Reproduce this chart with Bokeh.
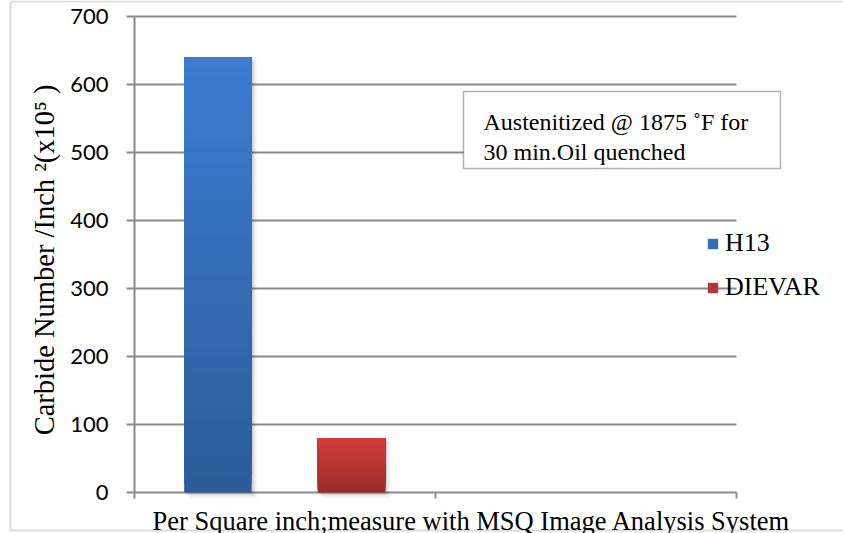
from bokeh.plotting import figure
from bokeh.models import (Range1d, FixedTicker, Label, Legend, LegendItem,
                          BoxAnnotation, ColumnDataSource)
from bokeh.embed import file_html
from bokeh.resources import INLINE

# Carbide counts per square inch (x10^5), austenitized at 1875 F, oil quenched
series = ["H13", "DIEVAR"]
values = [640, 80]
slot_pos = [0.277, 0.721]          # bar centres inside the first category slot
bar_width = 0.224
top_colors = [(0x3c, 0x7d, 0xd2), (0xd2, 0x3e, 0x3a)]
bottom_colors = [(0x2c, 0x5b, 0x98), (0x9b, 0x2c, 0x29)]
y_ticks = [0, 100, 200, 300, 400, 500, 600, 700]
slot_ticks = [0, 1, 2]
x_label = "Per Square inch;measure with MSQ Image Analysis System"
y_label = "Carbide Number /Inch   \u00b2(x10\u2075 )"
note_lines = ["Austenitized @ 1875 \u02daF for", "30 min.Oil quenched"]

GRID = "#8a8a8a"
SERIF = "Liberation Serif"
W, H = 843, 533
X0, Y0 = 134, 492    # canvas position of the origin (slot 0, count 0)
PX = 301.0           # pixels per category slot
PY = 0.68            # pixels per unit of carbide count


def dx(px):
    return (px - X0) / PX


def dy(py):
    return (Y0 - py) / PY


# the plot area fills the whole canvas; both axes are pinned to the origin
p = figure(width=W, height=H, output_backend="svg", toolbar_location=None,
           x_range=Range1d(dx(0), dx(W)), y_range=Range1d(dy(H), dy(0)),
           min_border=0)
p.outline_line_color = None
p.background_fill_color = "white"
p.border_fill_color = "white"

p.xaxis.fixed_location = 0
p.xaxis.ticker = FixedTicker(ticks=slot_ticks)
p.xaxis.major_label_text_color = None
p.xaxis.major_tick_in = 0
p.xaxis.major_tick_out = 6
p.xaxis.minor_tick_line_color = None
p.xaxis.axis_line_color = None
p.xaxis.major_tick_line_color = GRID
p.xaxis.major_tick_line_width = 2

p.yaxis.fixed_location = 0
p.yaxis.ticker = FixedTicker(ticks=y_ticks)
p.yaxis.major_tick_in = 0
p.yaxis.major_tick_out = 8
p.yaxis.minor_tick_line_color = None
p.yaxis.axis_line_color = None
p.yaxis.major_tick_line_color = GRID
p.yaxis.major_tick_line_width = 2
p.yaxis.major_label_text_font = "Lato"
p.yaxis.major_label_text_font_size = "22px"
p.yaxis.major_label_text_color = "black"
p.yaxis.major_label_standoff = 18
# leading spaces keep the title centred on the 0-700 span rather than the canvas
p.yaxis.axis_label = "\u00a0\u00a0\u00a0\u00a0" + y_label
p.yaxis.axis_label_text_font = SERIF
p.yaxis.axis_label_text_font_size = "28.5px"
p.yaxis.axis_label_text_font_style = "normal"
p.yaxis.axis_label_text_color = "black"
p.yaxis.axis_label_standoff = 7

# horizontal grid (with the zero baseline) and the value axis line,
# both limited to the category slots / value ticks
p.xgrid.grid_line_color = None
p.ygrid.grid_line_color = None
p.segment(x0=[slot_ticks[0]] * len(y_ticks), x1=[slot_ticks[-1]] * len(y_ticks),
          y0=y_ticks, y1=y_ticks, line_color=GRID, line_width=2)
p.segment(x0=[slot_ticks[0]], x1=[slot_ticks[0]], y0=[y_ticks[0]], y1=[y_ticks[-1]],
          line_color=GRID, line_width=2)

# chart border (open on the right)
p.add_layout(BoxAnnotation(left=dx(10), right=dx(W + 20), top=dy(1), bottom=dy(530),
                           fill_alpha=0, line_color=GRID, line_width=2))

# soft drop shadow behind each bar
for k, (x, v) in enumerate(zip(slot_pos, values)):
    for off, a in [(0.006, 0.10), (0.012, 0.06), (0.018, 0.03)]:
        p.quad(left=x - bar_width / 2 + off, right=x + bar_width / 2 + off,
               bottom=-off * 500, top=v - off * 300,
               fill_color="black", fill_alpha=a, line_color=None)

# bars with a vertical colour gradient: overlapping slices from each slice's
# start up to the bar value, drawn bottom first
N = 48
bars = []
for k, (x, v) in enumerate(zip(slot_pos, values)):
    bottoms, tops, cols = [], [], []
    for i in range(N):
        t = (i + 0.5) / N
        r, g, b = [int(round(bc + (tc - bc) * t)) for tc, bc in zip(top_colors[k], bottom_colors[k])]
        bottoms.append(v * i / N)
        tops.append(v)
        cols.append("#%02x%02x%02x" % (r, g, b))
    src = ColumnDataSource(dict(bottom=bottoms, top=tops, color=cols))
    bars.append(p.vbar(x=x, width=bar_width, bottom="bottom", top="top",
                       fill_color="color", line_color=None, source=src))

# legend swatches take the mid slice colour of each bar
legend = Legend(items=[LegendItem(label=s, renderers=[r], index=N // 2)
                       for s, r in zip(series, bars)],
                location=(706, 231), orientation="vertical",
                background_fill_alpha=0, border_line_color=None,
                label_text_font=SERIF, label_text_font_size="26px",
                label_text_color="black",
                glyph_width=13, glyph_height=13, label_standoff=6,
                spacing=14, padding=0, margin=0)
p.add_layout(legend)

# heat-treatment note box
p.add_layout(BoxAnnotation(left=dx(463), right=dx(780), top=dy(91), bottom=dy(168),
                           fill_color="white", fill_alpha=1,
                           line_color="black", line_width=1.5))
for i, line in enumerate(note_lines):
    p.add_layout(Label(x=dx(483), y=dy(121.5 + 30 * i),
                       text=line, text_font=SERIF, text_font_size="24px",
                       text_color="black", text_baseline="alphabetic"))

# category caption under the axis
p.add_layout(Label(x=dx(152), y=dy(520), text=x_label,
                   text_font=SERIF, text_font_size="26.5px", text_color="black",
                   text_baseline="alphabetic"))

open("out.html", "w").write(file_html(p, INLINE))
